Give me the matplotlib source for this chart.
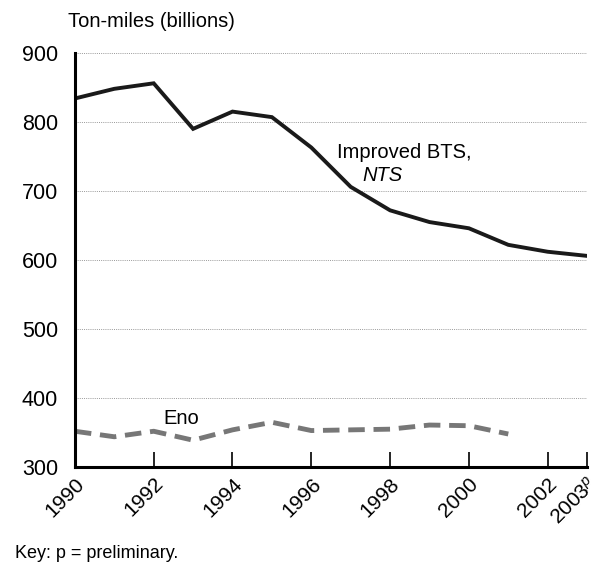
import matplotlib.pyplot as plt

plt.rcParams['font.family'] = ['Liberation Sans', 'DejaVu Sans']
plt.rcParams['mathtext.fontset'] = 'custom'
plt.rcParams['mathtext.it'] = 'Liberation Sans:italic'

years = list(range(1990, 2004))
nts = [834, 848, 856, 790, 815, 807, 763, 706, 672, 655, 646, 622, 612, 606]
eno_years = list(range(1990, 2002))
eno = [352, 344, 352, 339, 354, 365, 353, 354, 355, 361, 360, 348]

tick_years = [1990, 1992, 1994, 1996, 1998, 2000, 2002, 2003]
tick_labels = ['1990', '1992', '1994', '1996', '1998', '2000', '2002', '2003$^{p}$']

fig = plt.figure(figsize=(6.04, 5.69), dpi=100)
ax = fig.add_axes([0.124, 0.179, 0.848, 0.728])

ax.plot(years, nts, color='#1a1a1a', lw=2.8, solid_joinstyle='miter')
ax.plot(eno_years, eno, color='#777777', lw=3.5, dashes=(3.4, 1.8))

ax.set_xlim(1990, 2003)
ax.set_ylim(300, 900)
ax.set_yticks(range(300, 1000, 100))
ax.set_xticks(tick_years)
ax.set_xticklabels(tick_labels, rotation=45, ha='right', va='top', rotation_mode='anchor')
ax.tick_params(axis='x', direction='in', length=11, width=1.2, labelsize=15, pad=5)
ax.tick_params(axis='y', length=0, labelsize=15.5, pad=12)
ax.yaxis.grid(True, linestyle=(0, (1, 1.2)), color='#999999', lw=0.7)
ax.set_axisbelow(True)

for s in ['top', 'right']:
    ax.spines[s].set_visible(False)
for s in ['left', 'bottom']:
    ax.spines[s].set_linewidth(2.2)

ax.text(1996.65, 756, 'Improved BTS,', fontsize=14.5, va='center')
ax.text(1997.3, 723, 'NTS', fontsize=14.5, style='italic', va='center')
ax.text(1992.25, 371, 'Eno', fontsize=14.5, va='center')

fig.text(0.113, 0.962, 'Ton-miles (billions)', fontsize=14.5, va='center')
fig.text(0.025, 0.028, 'Key: p = preliminary.', fontsize=13, va='center')

fig.savefig('out.png', dpi=100)
